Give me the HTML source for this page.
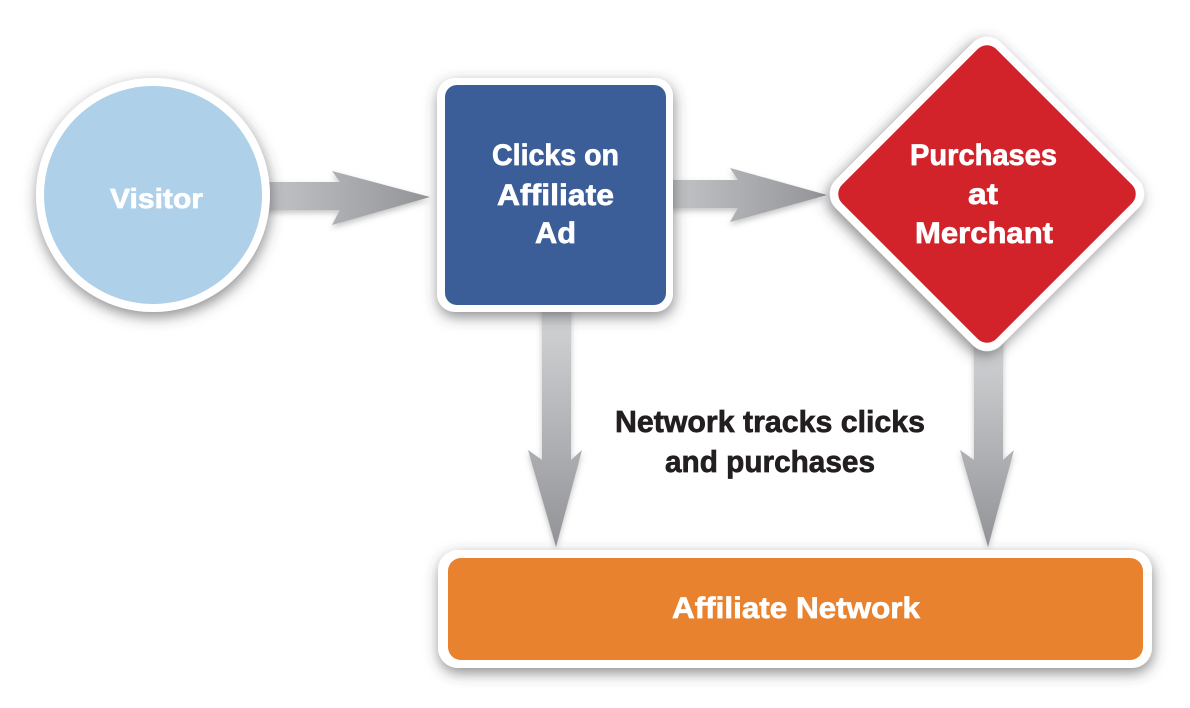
<!DOCTYPE html>
<html>
<head>
<meta charset="utf-8">
<style>
  html,body{margin:0;padding:0;background:#ffffff;}
  body{width:1190px;height:708px;overflow:hidden;}
  svg{display:block;}
  text{font-family:"Liberation Sans", Arial, sans-serif;font-weight:bold;}
</style>
</head>
<body>
<svg width="1190" height="708" viewBox="0 0 1190 708" xmlns="http://www.w3.org/2000/svg">
  <defs>
    <filter id="sh" x="-20%" y="-20%" width="140%" height="140%">
      <feDropShadow dx="1" dy="5" stdDeviation="7" flood-color="#3f3f45" flood-opacity="0.6"/>
    </filter>
    <filter id="sh2" x="-20%" y="-20%" width="140%" height="140%">
      <feDropShadow dx="0" dy="3" stdDeviation="3" flood-color="#6a6a70" flood-opacity="0.4"/>
    </filter>
    <linearGradient id="gh" x1="0" y1="0" x2="1" y2="0">
      <stop offset="0" stop-color="#c4c5c8"/>
      <stop offset="0.35" stop-color="#b2b3b6"/>
      <stop offset="1" stop-color="#939498"/>
    </linearGradient>
    <linearGradient id="gv" x1="0" y1="0" x2="0" y2="1">
      <stop offset="0" stop-color="#d6d7d9"/>
      <stop offset="0.5" stop-color="#b4b5b8"/>
      <stop offset="1" stop-color="#929397"/>
    </linearGradient>
  </defs>

  <!-- arrows -->
  <g filter="url(#sh2)">
    <polygon fill="url(#gh)" points="262,182 340,182 332,171 430,197 332,225 340,210 262,210"/>
    <polygon fill="url(#gh)" points="668,180 738,180 730,168 827,195 730,222 738,208 668,208"/>
    <polygon fill="url(#gv)" points="542,300 571,300 571,460 582,450 556,547 528,450 542,460"/>
    <polygon fill="url(#gv)" points="974,330 1003,330 1003,460 1014,450 988,547 960,450 974,460"/>
  </g>

  <!-- Visitor circle -->
  <g filter="url(#sh)">
    <circle cx="153" cy="195" r="117" fill="#ffffff"/>
  </g>
  <circle cx="153" cy="195" r="109" fill="#aed0e9"/>
  <text x="110" y="208" font-size="28" fill="#ffffff" stroke="#ffffff" stroke-width="0.7" textLength="93" lengthAdjust="spacingAndGlyphs">Visitor</text>

  <!-- Blue box -->
  <g filter="url(#sh)">
    <rect x="437" y="78" width="236" height="234" rx="18" fill="#ffffff"/>
  </g>
  <rect x="445" y="85" width="221" height="220" rx="12" fill="#3b5e99"/>
  <g fill="#ffffff" stroke="#ffffff" stroke-width="0.7">
    <text x="492" y="165" font-size="30" textLength="127" lengthAdjust="spacingAndGlyphs">Clicks on</text>
    <text x="497" y="205" font-size="30" textLength="117" lengthAdjust="spacingAndGlyphs">Affiliate</text>
    <text x="535" y="243" font-size="30" textLength="41" lengthAdjust="spacingAndGlyphs">Ad</text>
  </g>

  <!-- Red diamond -->
  <g transform="translate(987,194) rotate(45)">
    <g filter="url(#sh)">
      <rect x="-117" y="-117" width="234" height="234" rx="20" fill="#ffffff"/>
    </g>
    <rect x="-109" y="-109" width="218" height="218" rx="13" fill="#d2232b"/>
  </g>
  <g fill="#ffffff" stroke="#ffffff" stroke-width="0.7">
    <text x="910" y="165" font-size="30" textLength="147" lengthAdjust="spacingAndGlyphs">Purchases</text>
    <text x="968" y="204" font-size="30" textLength="30" lengthAdjust="spacingAndGlyphs">at</text>
    <text x="915" y="243" font-size="30" textLength="138" lengthAdjust="spacingAndGlyphs">Merchant</text>
  </g>

  <!-- middle label -->
  <g fill="#231f20" stroke="#231f20" stroke-width="0.7">
    <text x="615" y="432" font-size="31" textLength="310" lengthAdjust="spacingAndGlyphs">Network tracks clicks</text>
    <text x="665" y="472" font-size="31" textLength="210" lengthAdjust="spacingAndGlyphs">and purchases</text>
  </g>

  <!-- Orange box -->
  <g filter="url(#sh)">
    <rect x="438" y="550" width="714" height="118" rx="20" fill="#ffffff"/>
  </g>
  <rect x="448" y="558" width="695" height="102" rx="13" fill="#e8822e"/>
  <text x="672" y="618" font-size="30" fill="#ffffff" stroke="#ffffff" stroke-width="0.7" textLength="248" lengthAdjust="spacingAndGlyphs">Affiliate Network</text>
</svg>
</body>
</html>
